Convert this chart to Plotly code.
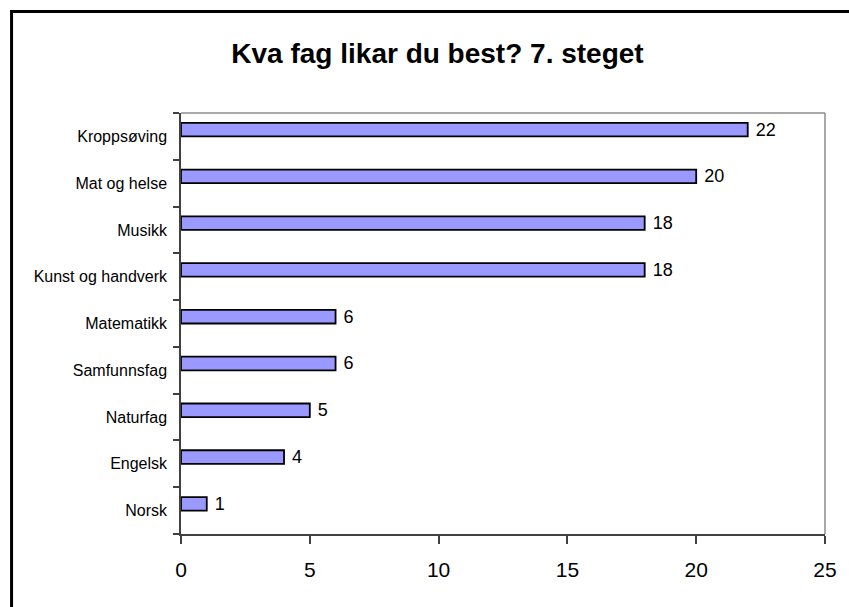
import plotly.graph_objects as go

categories = ["Norsk", "Engelsk", "Naturfag", "Samfunnsfag", "Matematikk",
              "Kunst og handverk", "Musikk", "Mat og helse", "Kroppsøving"]
values = [1, 4, 5, 6, 6, 18, 18, 20, 22]
x_ticks = [0, 5, 10, 15, 20, 25]
title_text = "Kva fag likar du best? 7. steget"

W, H = 849, 607
L, R, T, B = 181, 829, 113, 534

def px(x):
    return (x - L) / (R - L)

def py(y):
    return (B - y) / (B - T)

fig = go.Figure(go.Bar(
    y=categories, x=values, orientation="h",
    marker=dict(color="#9999FF", line=dict(color="black", width=1.8)),
    width=0.29, offset=0.0,
    text=[" " + str(v) for v in values], textposition="outside",
    constraintext="none",
    textfont=dict(family="Arial, Liberation Sans", size=18, color="black"),
    cliponaxis=False, hoverinfo="skip",
))

fig.update_layout(
    width=W, height=H,
    margin=dict(l=L, r=W - R, t=T, b=H - B),
    paper_bgcolor="white", plot_bgcolor="white",
    showlegend=False,
    font=dict(family="Arial, Liberation Sans", color="black"),
    title=dict(text="<b>" + title_text + "</b>", xref="container", yref="container",
               x=437.5 / W, y=1 - 53 / H, xanchor="center", yanchor="middle",
               font=dict(size=28, color="black")),
    xaxis=dict(range=[0, 25], tickvals=x_ticks, ticks="outside", ticklen=8,
               tickcolor="#404040", tickwidth=1.5, showgrid=False, zeroline=False,
               showline=True, linecolor="#404040", linewidth=1.5,
               tickfont=dict(size=21, color="black"), ticklabelstandoff=8),
    yaxis=dict(categoryorder="array", categoryarray=categories, tickson="boundaries",
               ticks="outside", ticklen=6, tickcolor="#404040", tickwidth=1.5,
               showgrid=False, zeroline=False,
               showline=True, linecolor="#404040", linewidth=1.5,
               tickfont=dict(size=16, color="black"), ticklabelstandoff=9),
    shapes=[
        dict(type="line", xref="paper", yref="paper", x0=0, x1=1, y0=1, y1=1,
             line=dict(color="#8c8c8c", width=1.5)),
        dict(type="line", xref="paper", yref="paper", x0=1, x1=1, y0=0, y1=1,
             line=dict(color="#8c8c8c", width=1.5)),
        dict(type="rect", xref="paper", yref="paper",
             x0=px(10.5), x1=px(870), y0=py(625), y1=py(11.5),
             line=dict(color="black", width=3), fillcolor="rgba(0,0,0,0)", layer="above"),
    ],
)

fig.write_html("out.html", config={"displayModeBar": False},
               post_script="document.body.style.margin='0';document.body.style.overflow='hidden';")
